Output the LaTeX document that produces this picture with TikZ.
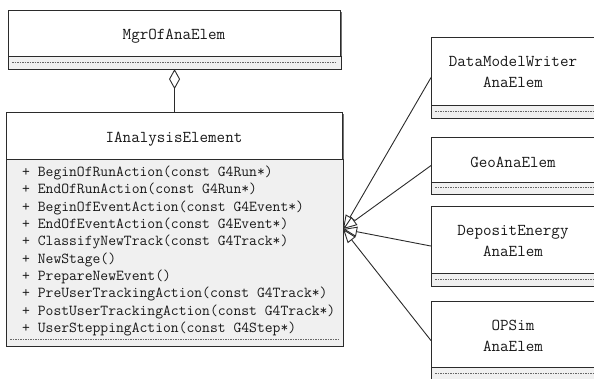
\documentclass[tikz,border=0pt]{standalone}
\usepackage{fontspec}
\usetikzlibrary{arrows.meta,calc,positioning,shadows}

\definecolor{frame}{HTML}{2B2B2B}
\definecolor{strip}{HTML}{F0F0F0}

\tikzset{
	classbox/.style={draw=frame, fill=white, line width=1.1pt, inner sep=0pt, anchor=north west,
		drop shadow={shadow xshift=1.3pt, shadow yshift=-1.3pt, fill=black!55, opacity=1}},
	classname/.style={font=\ttfamily\fontsize{16.6}{20.8}\selectfont, text=black!90, align=center, anchor=base, inner sep=0pt},
	method/.style={font=\ttfamily\fontsize{15.2}{16}\selectfont, text=black!90, anchor=base west, inner sep=0pt},
	opstrip/.style={fill=strip, draw=frame, line width=0.9pt},
	dots/.style={draw=black!60, line width=0.5pt, dash pattern=on 1.6pt off 0.9pt},
	inherit/.style={draw=frame, line width=0.9pt, -{Triangle[open, length=14pt, width=10pt, fill=white]}},
	aggr/.style={draw=frame, line width=0.9pt, {Diamond[open, length=20pt, width=11pt, fill=white]}-},
}

\begin{document}
\begin{tikzpicture}[x=1pt, y=-1pt]
	\useasboundingbox (0,0) rectangle (594,378);
	\clip (0,0) rectangle (594,378);
	
	% manager class
	\node[classbox, minimum width=332pt, minimum height=58pt] (mgr) at (8,10) {};
	\filldraw[opstrip] (mgr.west |- 0,56) rectangle (mgr.south east);
	\draw[dots] (12,62) -- (336,62);
	\node[classname] (mgrname) at (174,39) {MgrOfAnaElem};
	
	% interface class
	\node[classbox, minimum width=336pt, minimum height=233pt] (ana) at (6,112) {};
	\filldraw[opstrip] (ana.west |- 0,159) rectangle (ana.south east);
	\draw[dots] (10,339) -- (338,339);
	\node[classname] (ananame) at (174,142) {IAnalysisElement};
	
	% operations
	\foreach \m [count=\i from 0] in {BeginOfRunAction(const G4Run*), EndOfRunAction(const G4Run*),
		BeginOfEventAction(const G4Event*), EndOfEventAction(const G4Event*),
		ClassifyNewTrack(const G4Track*), NewStage(), PrepareNewEvent(),
		PreUserTrackingAction(const G4Track*), PostUserTrackingAction(const G4Track*),
		UserSteppingAction(const G4Step*)}
		\node[method] (op\i) at (22,{176.5+17.33*\i}) {+ \m};
	
	% aggregation
	\draw[aggr] (mgr.south) -- (ana.north);
	
	% implementing classes
	\node[classbox, minimum width=164pt, minimum height=80pt] (dmw) at (431,37) {};
	\filldraw[opstrip] (dmw.west |- 0,105) rectangle (dmw.south east);
	\draw[dots] (435,111) -- (594,111);
	\node[classname] (dmwname) at (513,87) {DataModelWriter\\AnaElem};
	
	\node[classbox, minimum width=164pt, minimum height=56pt] (geo) at (431,137) {};
	\filldraw[opstrip] (geo.west |- 0,182) rectangle (geo.south east);
	\draw[dots] (435,187.5) -- (594,187.5);
	\node[classname] (geoname) at (513,167) {GeoAnaElem};
	
	\node[classbox, minimum width=164pt, minimum height=79pt] (dep) at (431,206) {};
	\filldraw[opstrip] (dep.west |- 0,273) rectangle (dep.south east);
	\draw[dots] (435,279) -- (594,279);
	\node[classname] (depname) at (513,256) {DepositEnergy\\AnaElem};
	
	\node[classbox, minimum width=164pt, minimum height=78pt] (ops) at (431,301) {};
	\filldraw[opstrip] (ops.west |- 0,367) rectangle (ops.south east);
	\draw[dots] (435,373) -- (594,373);
	\node[classname] (opsname) at (513,351) {OPSim\\AnaElem};
	
	% generalisation
	\draw[inherit] (dmw.west) -- (ana.east);
	\draw[inherit] (geo.west) -- (ana.east);
	\draw[inherit] (dep.west) -- (ana.east);
	\draw[inherit] (ops.west) -- (ana.east);
\end{tikzpicture}
\end{document}
